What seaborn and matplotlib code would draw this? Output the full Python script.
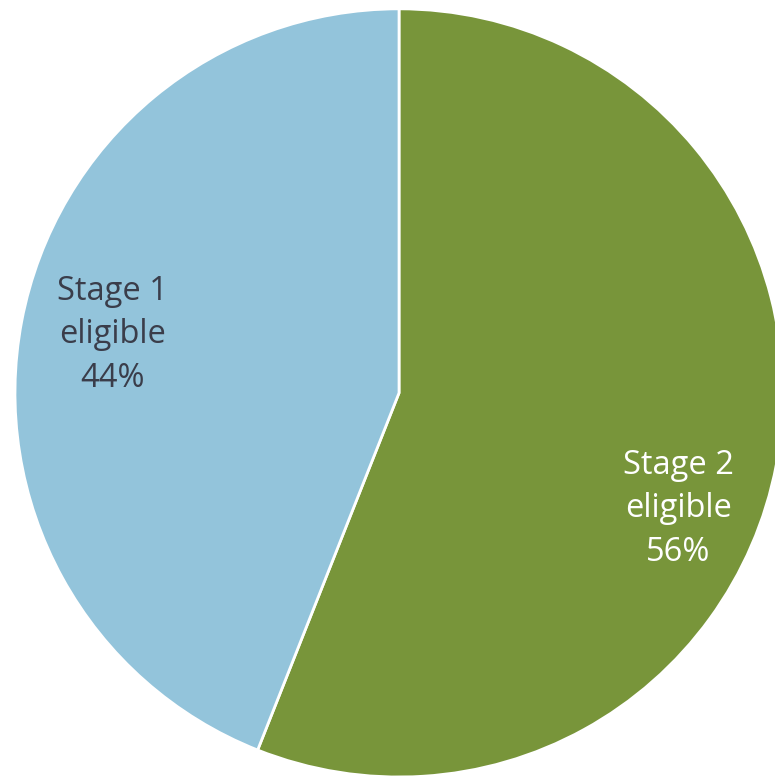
import matplotlib
matplotlib.use("Agg")
import matplotlib.pyplot as plt
import seaborn as sns

sns.set_theme(style="white")
plt.rcParams['font.family'] = ['Open Sans', 'DejaVu Sans']

categories = ["Stage 2\neligible", "Stage 1\neligible"]
values = [56, 44]
colors = ["#78953A", "#93C4DB"]
text_colors = ["white", "#3A3D4A"]

fig = plt.figure(figsize=(7.75, 7.77), dpi=100)
ax = fig.add_axes([0, 0, 1, 1])
wedges, texts = ax.pie(
    values, labels=[f"{c}\n{v}%" for c, v in zip(categories, values)],
    colors=colors, startangle=90, counterclock=False,
    labeldistance=0.76,
    wedgeprops=dict(edgecolor="white", linewidth=2),
    textprops=dict(fontsize=23.5, ha="center", va="center", linespacing=1.42),
)
# label placement (Stage 2 sits lower than its mid-angle)
label_pos = [(0.728, -0.302), (-0.745, 0.151)]
for t, p, c in zip(texts, label_pos, text_colors):
    t.set_position(p)
    t.set_color(c)
    t.set_ha("center")
    t.set_va("center")
    t.set_multialignment("center")

ax.set_aspect("auto")
ax.set_xlim(-1.039, 0.979)
ax.set_ylim(-1.0, 1.023)
ax.axis("off")
fig.savefig("out.png", dpi=100, facecolor="white")
